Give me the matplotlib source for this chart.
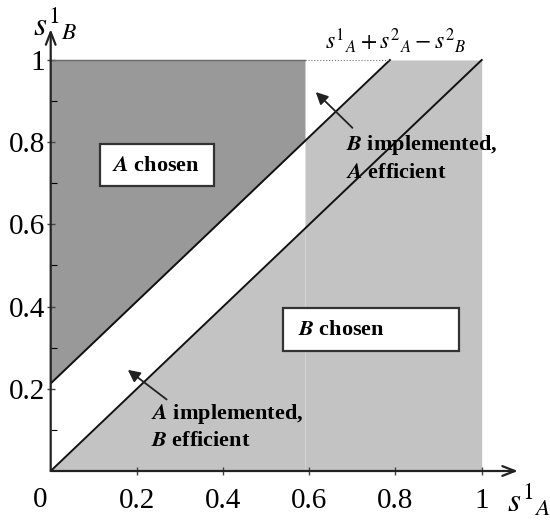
import numpy as np
import matplotlib
matplotlib.use("Agg")
import matplotlib.pyplot as plt
from matplotlib.patches import Rectangle

plt.rcParams['font.family'] = ['Liberation Serif', 'DejaVu Serif']
plt.rcParams['mathtext.fontset'] = 'stix'

# Data
x_split = 0.59          # A chosen region ends here
upper_icpt = 0.213      # upper line: s1_B = s1_A + 0.213
lower_icpt = 0.0        # lower line: s1_B = s1_A
ticks = [0.2, 0.4, 0.6, 0.8, 1.0]
tick_labels = ["0.2", "0.4", "0.6", "0.8", "1"]

dark = "#999999"
light = "#c3c3c3"

fig = plt.figure(figsize=(5.5, 5.25), dpi=100)
ax = fig.add_axes([50.7 / 550, 54 / 525, 1.1 * 431 / 550, 1.12 * 411 / 525])
ax.set_xlim(0, 1.1)
ax.set_ylim(0, 1.12)

# A chosen (dark): left of split, above upper line
xs = np.array([0, x_split])
ax.fill_between(xs, xs + upper_icpt, 1, color=dark, lw=0)

# light: below lower line on the left, below upper line (capped at 1) on the right
x_top = 1 - upper_icpt
xl = np.array([0, x_split])
ax.fill_between(xl, 0, xl + lower_icpt, color=light, lw=0)
xr = np.array([x_split, x_top, 1.0])
ax.fill_between(xr, 0, np.minimum(xr + upper_icpt, 1), color=light, lw=0)

# boundary lines
xu = np.array([0, x_top])
ax.plot(xu, xu + upper_icpt, color="#111111", lw=1.4)
xd = np.array([0, 1.0])
ax.plot(xd, xd + lower_icpt, color="#111111", lw=1.4)
ax.plot([0, x_split], [1, 1], color="#666666", lw=1.0)
ax.plot([x_split, x_top], [1, 1], color="#777777", lw=0.8, ls=":")

# labelled boxes
ax.add_patch(Rectangle((0.114, 0.694), 0.266, 0.102, facecolor="white",
                       edgecolor="#333333", lw=1.6, zorder=3))
ax.text(0.142, 0.742, r"$\mathbfit{A}$ chosen", fontsize=16, fontweight="bold",
        va="center", ha="left", zorder=4)
ax.add_patch(Rectangle((0.54, 0.292), 0.408, 0.105, facecolor="white",
                       edgecolor="#333333", lw=1.6, zorder=3))
ax.text(0.574, 0.342, r"$\mathbfit{B}$ chosen", fontsize=16, fontweight="bold",
        va="center", ha="left", zorder=4)

ax.text(0.684, 0.792, r"$\mathbfit{B}$ implemented,", fontsize=16,
        fontweight="bold", va="center", ha="left", zorder=4)
ax.text(0.684, 0.726, r"$\mathbfit{A}$ efficient", fontsize=16,
        fontweight="bold", va="center", ha="left", zorder=4)
ax.text(0.232, 0.138, r"$\mathbfit{A}$ implemented,", fontsize=16,
        fontweight="bold", va="center", ha="left", zorder=4)
ax.text(0.232, 0.074, r"$\mathbfit{B}$ efficient", fontsize=16,
        fontweight="bold", va="center", ha="left", zorder=4)

arrow = dict(arrowstyle="-|>", color="#222222", lw=1.3,
             mutation_scale=18, shrinkA=0, shrinkB=0)
ax.annotate("", xy=(0.615, 0.922), xytext=(0.70, 0.835), arrowprops=arrow, zorder=5)
ax.annotate("", xy=(0.179, 0.246), xytext=(0.269, 0.174), arrowprops=arrow, zorder=5)

# formula label at top
ax.text(0.80, 1.012, r"$s^1{}_A + s^2{}_A - s^2{}_B$", fontsize=17,
        ha="center", va="bottom")

# axes with arrows
for s in ax.spines.values():
    s.set_visible(False)
axarrow = dict(arrowstyle="->,head_length=0.9,head_width=0.35", color="#222222",
               lw=1.6, shrinkA=0, shrinkB=0)
ax.annotate("", xy=(1.084, 0), xytext=(0, 0), arrowprops=axarrow, annotation_clip=False)
ax.annotate("", xy=(0, 1.075), xytext=(0, 0), arrowprops=axarrow, annotation_clip=False)

ax.set_xticks(ticks)
ax.set_xticklabels(tick_labels, fontsize=21)
ax.set_yticks(ticks)
ax.set_yticklabels(tick_labels, fontsize=21)
ax.set_yticks(np.arange(0.1, 1.0, 0.2), minor=True)
ax.tick_params(axis="both", direction="inout", length=6, width=1, color="#444444")
ax.tick_params(axis="x", pad=9)
ax.tick_params(axis="y", pad=1)
ax.tick_params(which="minor", direction="in", length=4, width=0.8)
ax.text(-0.024, -0.04, "0", fontsize=21, ha="center", va="top")

# axis titles
fig.text(33 / 550, 1 - 35 / 525, r"$s^1{}_B$", fontsize=24, ha="left", va="baseline")
fig.text(507 / 550, 1 - 512 / 525, r"$s^1{}_A$", fontsize=24, ha="left", va="baseline")

fig.savefig("out.png", dpi=100)
